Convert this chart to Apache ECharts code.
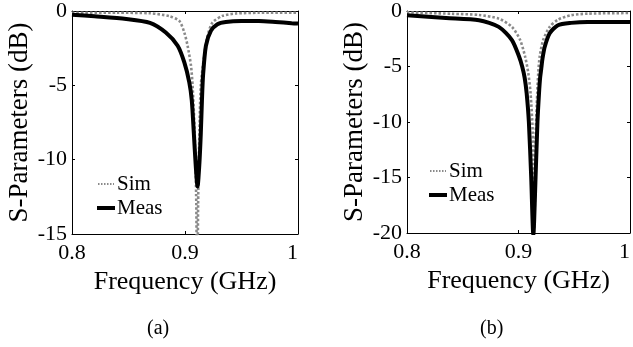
<!DOCTYPE html>
<html><head><meta charset="utf-8">
<script src="https://cdn.jsdelivr.net/npm/echarts@6/dist/echarts.min.js"></script>
<style>html,body{margin:0;padding:0;background:#fff}#c{width:633px;height:347px}</style>
</head><body><div id="c"></div>
<script>
// Panel (a)
const freqA_meas = [0.800,0.820,0.848,0.869,0.883,0.8935,0.8994,0.9038,0.9060,0.9078,0.9095,0.9111,0.9127,0.9140,0.9150,0.9160,0.9185,0.9229,0.9287,0.9361,0.950,0.9653,0.980,0.9944,1.000];
const measA =      [-0.25,-0.36,-0.54,-0.80,-1.45,-2.34,-3.46,-4.8,-6.0,-8.2,-10.4,-11.8,-10.3,-8.2,-6.0,-4.3,-2.34,-1.34,-0.89,-0.74,-0.68,-0.68,-0.74,-0.82,-0.84];
const freqA_sim = [0.800,0.840,0.8686,0.8862,0.895,0.8994,0.9023,0.9053,0.9067,0.9085,0.9100,0.9108,0.9116,0.9128,0.914,0.917,0.9199,0.9243,0.9331,0.9449,0.9653,1.000];
const simA =      [-0.12,-0.12,-0.15,-0.35,-0.67,-1.45,-2.34,-3.68,-5.0,-8.0,-13,-22,-13,-8.0,-5.0,-3.0,-1.67,-0.78,-0.33,-0.17,-0.12,-0.12];
// Panel (b)
const freqB_meas = [0.800,0.835,0.8646,0.8823,0.8941,0.9005,0.9033,0.9055,0.9073,0.9093,0.9114,0.9133,0.9153,0.9170,0.9184,0.9194,0.9204,0.9215,0.9236,0.928,0.9354,0.9472,0.962,0.980,1.000];
const measB =      [-0.39,-0.63,-0.83,-1.43,-2.62,-4.1,-5.0,-6.0,-7.4,-10,-15,-20.2,-15,-10,-7.4,-6.0,-5.2,-4.3,-3.2,-2.0,-1.28,-1.07,-0.98,-0.98,-1.0];
const freqB_sim = [0.800,0.840,0.8646,0.8823,0.8941,0.9015,0.9059,0.9088,0.9108,0.9128,0.9142,0.9155,0.9168,0.9177,0.9190,0.9221,0.928,0.9354,0.9472,0.962,1.000];
const simB =      [-0.12,-0.25,-0.36,-0.69,-1.43,-2.62,-4.1,-5.6,-7.4,-11,-19.5,-11,-7.4,-5.6,-4.1,-2.62,-1.43,-0.78,-0.38,-0.24,-0.18];

const xTicks = ['0.8','0.9','1'];
const yTicksA = ['-15','-10','-5','0'];
const yTicksB = ['-20','-15','-10','-5','0'];
const seriesNames = ['Sim','Meas'];

const FONT = "'Liberation Serif','Times New Roman',serif";
const SIM_COLOR = '#8a8a8a';
const zip = (f, v) => f.map((x, i) => [x, v[i]]);

function xAx(grid, top) {
  return {
    type: 'value', gridIndex: grid, min: 0.8, max: 1.0, interval: 0.1,
    position: top ? 'top' : 'bottom',
    axisLine: {show: true, onZero: false, lineStyle: {color: '#000', width: 1}},
    axisTick: {show: true, inside: true, length: 3, lineStyle: {color: '#000'}},
    axisLabel: {show: !top, margin: 8, fontFamily: FONT, fontSize: 22, color: '#000',
      alignMaxLabel: 'right',
      formatter: v => xTicks[Math.round((v - 0.8) / 0.1)]},
    splitLine: {show: false},
    name: top ? '' : 'Frequency (GHz)', nameLocation: 'middle', nameGap: 34,
    nameTextStyle: {fontFamily: FONT, fontSize: 26, color: '#000'}
  };
}
function yAx(grid, right, min, ticks) {
  return {
    type: 'value', gridIndex: grid, min: min, max: 0, interval: 5,
    position: right ? 'right' : 'left',
    axisLine: {show: true, onZero: false, lineStyle: {color: '#000', width: 1}},
    axisTick: {show: true, inside: true, length: 3, lineStyle: {color: '#000'}},
    axisLabel: {show: !right, margin: 5, fontFamily: FONT, fontSize: 22, color: '#000',
      formatter: v => ticks[Math.round((v - min) / 5)]},
    splitLine: {show: false},
    name: right ? '' : 'S-Parameters (dB)', nameLocation: 'middle', nameRotate: 90, nameGap: 39,
    nameTextStyle: {fontFamily: FONT, fontSize: 27, color: '#000'}
  };
}
function simSeries(x, y, f, v) {
  return {name: seriesNames[0], type: 'line', xAxisIndex: x, yAxisIndex: y, data: zip(f, v),
    symbol: 'none', smooth: 0.25, clip: true, z: 2,
    lineStyle: {color: SIM_COLOR, width: 2.6, type: [2.5, 2]}};
}
function measSeries(x, y, f, v) {
  return {name: seriesNames[1], type: 'line', xAxisIndex: x, yAxisIndex: y, data: zip(f, v),
    symbol: 'none', smooth: 0.25, clip: true, z: 3,
    lineStyle: {color: '#000', width: 4}};
}
// legend drawn as graphic elements (sample line + real text)
function legendGraphics(x, y1, y2) {
  return [
    {type: 'line', shape: {x1: x + 1, y1: y1, x2: x + 17, y2: y1},
      style: {stroke: SIM_COLOR, lineWidth: 2, lineDash: [1.5, 1.5]}},
    {type: 'text', x: x + 20, y: y1, style: {text: seriesNames[0], font: '21px ' + FONT, fill: '#000', textVerticalAlign: 'middle', verticalAlign: 'middle'}},
    {type: 'line', shape: {x1: x, y1: y2, x2: x + 18, y2: y2},
      style: {stroke: '#000', lineWidth: 4}},
    {type: 'text', x: x + 20, y: y2, style: {text: seriesNames[1], font: '21px ' + FONT, fill: '#000', textVerticalAlign: 'middle', verticalAlign: 'middle'}}
  ];
}

const chart = echarts.init(document.getElementById('c'), null, {renderer: 'canvas'});
chart.setOption({
  animation: false,
  backgroundColor: '#fff',
  grid: [
    {left: 72, top: 10, width: 226, height: 224},
    {left: 407, top: 9, width: 225, height: 224}
  ],
  xAxis: [xAx(0, false), xAx(0, true), xAx(1, false), xAx(1, true)],
  yAxis: [yAx(0, false, -15, yTicksA), yAx(0, true, -15, yTicksA), yAx(1, false, -20, yTicksB), yAx(1, true, -20, yTicksB)],
  series: [
    simSeries(0, 0, freqA_sim, simA),
    measSeries(0, 0, freqA_meas, measA),
    simSeries(2, 2, freqB_sim, simB),
    measSeries(2, 2, freqB_meas, measB)
  ],
  graphic: [
    ...legendGraphics(97, 184, 208),
    ...legendGraphics(429, 171, 195),
    {type: 'text', left: 147, top: 319, style: {text: '(a)', font: "20px " + FONT, fill: '#000'}},
    {type: 'text', left: 480, top: 319, style: {text: '(b)', font: "20px " + FONT, fill: '#000'}}
  ]
});
</script></body></html>
